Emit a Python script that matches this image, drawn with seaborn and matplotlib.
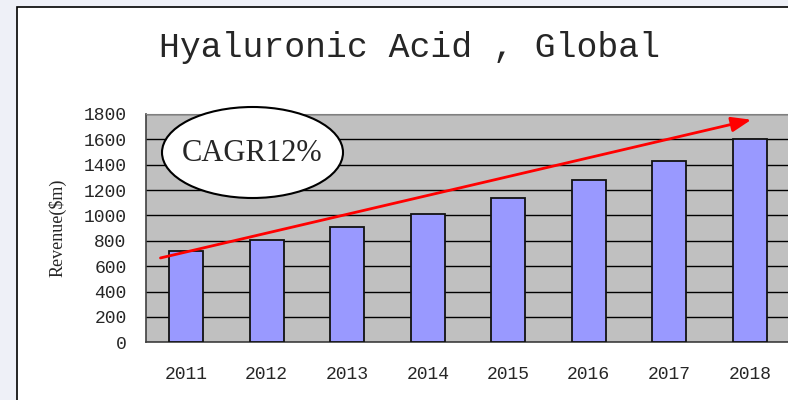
import matplotlib
matplotlib.use("Agg")
import matplotlib.pyplot as plt
import seaborn as sns
import pandas as pd
from matplotlib.patches import Ellipse, Rectangle

years = ["2011", "2012", "2013", "2014", "2015", "2016", "2017", "2018"]
revenue = [720, 805, 910, 1015, 1141, 1276, 1429, 1600]
y_ticks = [0, 200, 400, 600, 800, 1000, 1200, 1400, 1600, 1800]

# trend arrow (start, end) in data coords
arrow_start = (-0.32, 665)
arrow_end = (7.02, 1755)


def main():
    sns.set_style("white")
    plt.rcParams["font.family"] = ["Liberation Mono", "DejaVu Sans"]

    fig = plt.figure(figsize=(7.88, 4.0), dpi=100)
    fig.patch.set_facecolor("#eef0f7")
    # white page with black border
    fig.patches.append(Rectangle((17 / 788, -0.05), 1.1, 1 - 7 / 400 + 0.05,
                                 transform=fig.transFigure, facecolor="white",
                                 edgecolor="black", linewidth=1.2, zorder=-5))

    ax = fig.add_axes([146 / 788, 1 - 342.3 / 400, 644 / 788, 228.3 / 400])
    df = pd.DataFrame({"year": years, "revenue": revenue})
    sns.barplot(data=df, x="year", y="revenue", color="#9999ff", saturation=1,
                edgecolor="#111111", linewidth=1.3, width=0.42, ax=ax, zorder=3)

    ax.set_facecolor("#c0c0c0")
    ax.set_xlim(-0.5, len(years) - 0.5)
    ax.set_ylim(0, 1800)
    ax.set_yticks(y_ticks)
    ax.set_yticklabels([str(v) for v in y_ticks], fontsize=13)
    ax.yaxis.grid(True, color="black", linewidth=1)
    ax.set_axisbelow(True)
    ax.tick_params(axis="y", length=0, pad=14)
    ax.tick_params(axis="x", which="major", length=0, pad=17, labelsize=13)
    ax.set_xticks([i + 0.5 for i in range(len(years) - 1)], minor=True)
    ax.tick_params(axis="x", which="minor", direction="in", length=6, color="#404040")
    ax.set_xlabel("")
    ax.set_ylabel("Revenue($m)", fontsize=13, family="Liberation Serif", labelpad=12)
    for side in ["left", "bottom"]:
        ax.spines[side].set_color("#404040")
        ax.spines[side].set_linewidth(1.2)
    ax.spines["top"].set_color("#808080")
    ax.spines["right"].set_visible(False)

    # CAGR ellipse
    ell = Ellipse((252.5 / 788, 1 - 152.5 / 400), 181 / 788, 91 / 400,
                  transform=fig.transFigure, facecolor="white", edgecolor="black",
                  linewidth=1.5, zorder=5)
    fig.patches.append(ell)
    fig.text(252.5 / 788, 1 - 153 / 400, "CAGR12%", ha="center", va="center",
             fontsize=22, family="Liberation Serif", zorder=6)

    ax.annotate("", xy=arrow_end, xytext=arrow_start,
                arrowprops=dict(arrowstyle="-|>,head_length=1.2,head_width=0.45",
                                color="red", lw=2, shrinkA=0, shrinkB=0),
                zorder=6, annotation_clip=False)

    fig.text(410 / 788, 1 - 48 / 400, "Hyaluronic Acid , Global", ha="center",
             va="center", fontsize=25)

    fig.savefig("out.png", dpi=100, facecolor=fig.get_facecolor())


if __name__ == "__main__":
    main()
